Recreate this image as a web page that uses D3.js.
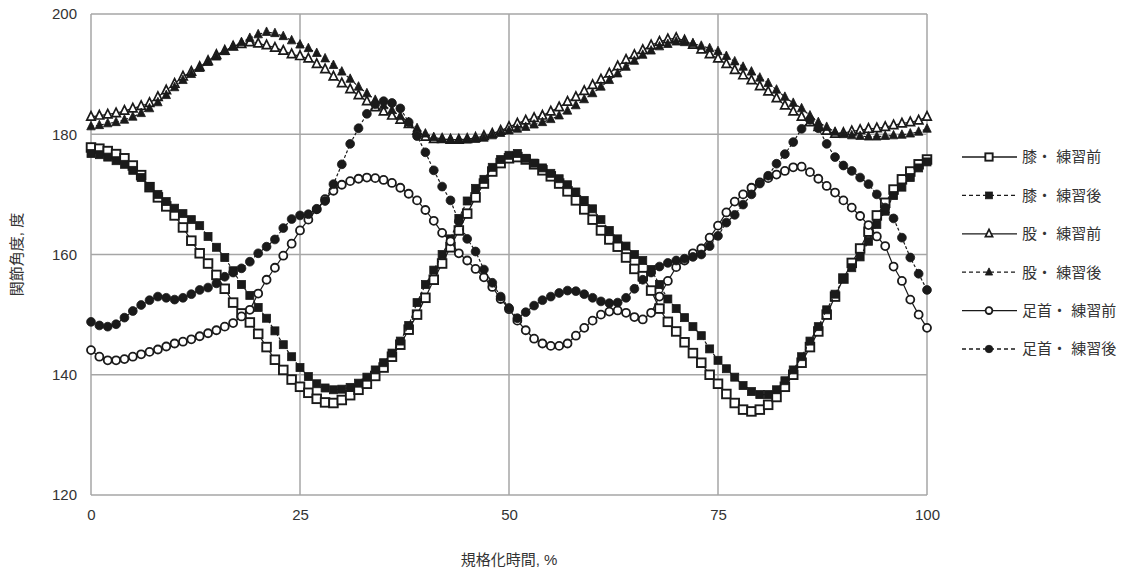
<!DOCTYPE html>
<html>
<head>
<meta charset="utf-8">
<script src="https://cdn.jsdelivr.net/npm/d3@7"></script>
<style>
  body { margin: 0; background: #fff; }
  svg text { font-family: "Liberation Sans", Arial, "Noto Sans CJK JP", sans-serif; fill: #333; }
</style>
</head>
<body>
<svg id="chart" width="1145" height="574"></svg>
<script>
// 正規化時間 0..100 %
const xValues = d3.range(0, 101);

const kneeBefore = [
  177.8, 177.6, 177.2, 176.7, 176.0, 174.8, 173.2, 171.2, 169.5, 168.0,
  166.5, 164.5, 162.3, 160.2, 158.5, 156.6, 154.3, 152.0, 150.2, 148.7,
  146.8, 144.6, 142.5, 140.8, 139.2, 138.0, 137.0, 136.0, 135.4, 135.3,
  135.8, 136.6, 137.5, 138.5, 139.8, 141.2, 143.0, 145.0, 147.5, 150.0,
  152.8, 155.8, 158.5, 161.2, 164.0, 166.8, 169.5, 171.8, 173.8, 175.2,
  176.0, 176.2, 175.8, 175.0, 174.0, 173.0, 171.8, 170.5, 169.0, 167.5,
  165.8, 164.0, 162.5, 161.3, 159.5, 157.6, 156.4, 154.0, 151.0, 148.8,
  147.2, 145.4, 143.6, 142.0, 140.0, 138.5, 136.8, 135.3, 134.2, 133.9,
  134.2, 135.0, 136.3, 138.0, 140.0, 142.0, 144.6, 147.2, 150.0, 153.0,
  156.0, 158.6, 161.0, 163.8, 166.5, 168.6, 170.8, 172.5, 173.8, 175.0,
  175.8
];
const kneeAfter = [
  176.8, 176.6, 176.2, 175.6, 175.0, 174.0, 172.8, 171.3, 170.0, 168.8,
  167.7, 166.8, 165.8, 164.8, 163.0, 161.2, 159.5, 157.3, 155.0, 153.2,
  151.2, 149.4, 147.3, 145.0, 143.0, 141.2, 139.7, 138.5, 137.8, 137.5,
  137.6, 137.9, 138.6, 139.6, 140.8, 142.0, 143.6, 145.6, 148.2, 152.0,
  155.0, 157.4, 160.0, 162.6, 166.0, 168.9, 171.0, 172.5, 174.5, 175.8,
  176.5, 176.8, 176.0, 175.2, 174.4, 173.5, 172.6, 171.6, 170.4, 169.0,
  167.6, 165.8, 164.0, 162.6, 161.4, 160.0, 159.0, 157.5, 155.0, 152.6,
  151.0, 149.5, 148.0, 146.5, 144.3, 142.4, 141.0, 139.6, 138.2, 137.2,
  136.7, 136.7, 137.5, 139.0, 140.8, 143.0, 145.6, 148.0, 150.8, 153.4,
  156.0, 157.8, 159.6, 162.2, 165.0, 167.2, 169.8, 171.2, 172.8, 174.4,
  175.4
];
const hipBefore = [
  182.9, 183.1, 183.3, 183.5, 183.9, 184.3, 184.7, 185.2, 186.2, 187.3,
  188.4, 189.6, 190.4, 191.2, 192.2, 193.2, 193.9, 194.6, 195.0, 195.3,
  195.1, 194.8, 194.4, 193.9, 193.3, 193.0, 192.6, 191.7, 190.8, 189.6,
  188.5, 187.5, 186.5, 185.5, 184.5, 183.8, 183.1, 182.4, 181.7, 180.6,
  179.6, 179.2, 179.2, 179.1, 179.1, 179.2, 179.4, 179.7, 180.1, 180.6,
  181.2, 181.8, 182.3, 182.7, 183.1, 183.8, 184.5, 185.4, 186.2, 187.2,
  188.2, 189.1, 190.1, 191.3, 192.4, 193.2, 194.0, 194.8, 195.4, 195.8,
  196.0, 195.6, 194.9, 194.1, 193.3, 192.6, 191.7, 190.7, 189.8, 189.0,
  188.0, 187.1, 186.0, 184.8, 183.8, 182.9, 182.0, 181.2, 180.6, 180.1,
  180.2, 180.5, 180.7, 180.9, 181.0, 181.2, 181.5, 181.8, 182.0, 182.3,
  182.9
];
const hipAfter = [
  181.3, 181.5, 181.8, 182.0, 182.4, 182.9, 183.5, 184.3, 185.3, 186.5,
  187.8, 189.0, 190.0, 191.0, 192.0, 192.9, 193.8, 194.6, 195.3, 196.0,
  196.6, 197.0, 196.8, 196.3, 195.6, 194.9, 194.3, 193.5, 192.6, 191.5,
  190.4, 189.2, 187.9, 186.8, 185.7, 184.8, 184.0, 183.0, 182.0, 181.0,
  180.1, 179.5, 179.2, 179.1, 179.1, 179.1, 179.2, 179.4, 179.8, 180.2,
  180.6, 180.9, 181.2, 181.6, 182.0, 182.5, 183.1, 183.9, 184.8, 185.8,
  186.8, 187.9, 189.0, 190.1, 191.2, 192.2, 193.2, 193.9, 194.6, 195.0,
  195.4, 195.3, 195.1, 194.7, 194.3, 193.8, 193.0, 192.1, 191.2, 190.4,
  189.4, 188.5, 187.4, 186.2, 185.2, 184.3, 183.1, 182.0, 181.2, 180.4,
  180.0, 179.8, 179.7, 179.6, 179.6, 179.7, 179.8, 179.9, 180.1, 180.4,
  180.9
];
const ankleBefore = [
  144.1, 143.0, 142.4, 142.4, 142.6, 143.0, 143.4, 143.8, 144.2, 144.7,
  145.2, 145.5, 145.9, 146.4, 146.9, 147.4, 148.0, 148.6, 149.7, 150.8,
  153.5, 155.8, 157.8, 159.8, 161.8, 164.0, 165.8, 167.5, 169.2, 170.6,
  171.6, 172.2, 172.6, 172.8, 172.7, 172.4, 171.9, 171.1, 170.1, 169.0,
  167.4, 165.6, 163.6, 162.2, 160.2, 159.0, 157.6, 156.2, 154.6, 152.6,
  150.9, 149.0, 147.4, 146.0, 145.2, 144.8, 144.8, 145.2, 146.5, 147.8,
  149.0, 150.0, 150.5, 150.7, 150.3, 149.6, 149.2, 150.3, 153.0, 155.6,
  157.9, 159.0, 160.2, 161.0, 162.8, 164.8, 167.0, 168.8, 170.0, 171.1,
  172.0, 172.7, 173.3, 173.9, 174.5, 174.6, 173.7, 172.6, 171.4, 170.3,
  169.0, 167.8, 166.4, 164.9, 163.0, 161.4, 158.0, 155.6, 152.5, 150.0,
  147.8
];
const ankleAfter = [
  148.8, 148.2, 148.0, 148.4, 149.5, 150.6, 151.6, 152.4, 153.0, 152.8,
  152.5, 152.8, 153.4, 154.1, 154.5, 155.2, 156.3, 157.0, 157.7, 158.8,
  160.2, 161.3, 162.5, 164.4, 165.9, 166.5, 166.7, 167.6, 168.9, 171.7,
  175.0, 178.4, 181.0, 183.4, 185.0, 185.5, 185.2, 184.3, 182.0, 179.7,
  177.0, 174.0, 171.3, 169.0, 165.5, 162.6, 160.5, 157.5, 155.3, 153.0,
  151.1, 149.4, 150.4, 151.5, 152.4, 153.0, 153.6, 154.0, 153.9, 153.4,
  152.8, 152.2, 151.9, 152.0, 152.8, 154.3, 155.8, 157.0, 158.0, 158.6,
  159.0, 159.3, 159.6, 160.0, 161.4, 163.1, 165.3, 166.6, 168.3, 170.0,
  171.8, 173.1, 175.1, 176.7, 178.7, 180.9, 182.4, 181.0, 178.4, 176.2,
  174.8, 173.9, 172.8, 171.7, 170.0, 167.8, 166.0, 162.8, 159.5, 156.8,
  154.1
];

const xTicks = [0, 25, 50, 75, 100];
const yTicks = [120, 140, 160, 180, 200];

const seriesNames = ['膝・ 練習前', '膝・ 練習後', '股・ 練習前', '股・ 練習後', '足首・ 練習前', '足首・ 練習後'];
const seriesData = [kneeBefore, kneeAfter, hipBefore, hipAfter, ankleBefore, ankleAfter];
const seriesMarker = ['square', 'square', 'triangle', 'triangle', 'circle', 'circle'];
const seriesFilled = [false, true, false, true, false, true];

const INK = '#1a1a1a';
const GRID = '#a6a6a6';

const svg = d3.select('#chart');
const margin = { left: 91, right: 927, top: 14, bottom: 495 };

const x = d3.scaleLinear().domain([0, 100]).range([margin.left, margin.right]);
const y = d3.scaleLinear().domain([120, 200]).range([margin.bottom, margin.top]);

// grid
const grid = svg.append('g');
grid.selectAll('line.gx')
  .data(xTicks)
  .enter()
  .append('line')
  .attr('x1', (d) => x(d)).attr('x2', (d) => x(d))
  .attr('y1', margin.top).attr('y2', margin.bottom)
  .attr('stroke', GRID).attr('stroke-width', 1.5);
grid.selectAll('line.gy')
  .data(yTicks)
  .enter()
  .append('line')
  .attr('x1', margin.left).attr('x2', margin.right)
  .attr('y1', (d) => y(d)).attr('y2', (d) => y(d))
  .attr('stroke', GRID).attr('stroke-width', 1.5);

// axes (labels only)
const xAxis = svg.append('g')
  .attr('transform', `translate(0,${margin.bottom + 8})`)
  .call(d3.axisBottom(x).tickValues(xTicks).tickSize(0).tickPadding(6));
const yAxis = svg.append('g')
  .attr('transform', `translate(${margin.left - 8},0)`)
  .call(d3.axisLeft(y).tickValues(yTicks).tickSize(0).tickPadding(6));
[xAxis, yAxis].forEach((a) => {
  a.select('.domain').remove();
  a.selectAll('text').attr('font-size', 15).style('font-family', '"Liberation Sans", Arial, sans-serif');
});

svg.append('text')
  .attr('x', (margin.left + margin.right) / 2)
  .attr('y', 565)
  .attr('text-anchor', 'middle')
  .attr('font-size', 15)
  .text('規格化時間, %');
svg.append('text')
  .attr('transform', `translate(22,${(margin.top + margin.bottom) / 2}) rotate(-90)`)
  .attr('text-anchor', 'middle')
  .attr('font-size', 15)
  .text('関節角度, 度');

const drawMarker = (g, type, filled, cx, cy, scale = 1) => {
  const fill = filled ? INK : '#fff';
  if (type === 'square') {
    const s = (filled ? 8 : 8.6) * scale;
    g.append('rect')
      .attr('x', cx - s / 2).attr('y', cy - s / 2)
      .attr('width', s).attr('height', s)
      .attr('fill', fill).attr('stroke', INK).attr('stroke-width', filled ? 0.8 : 1.9);
  } else if (type === 'triangle') {
    const s = 8.5 * scale;
    g.append('path')
      .attr('d', `M${cx},${cy - s * 0.6} L${cx + s / 2},${cy + s * 0.4} L${cx - s / 2},${cy + s * 0.4}Z`)
      .attr('fill', fill).attr('stroke', INK).attr('stroke-width', filled ? 0.8 : 1.7);
  } else {
    g.append('circle')
      .attr('cx', cx).attr('cy', cy).attr('r', (filled ? 4.4 : 4.0) * scale)
      .attr('fill', fill).attr('stroke', INK).attr('stroke-width', filled ? 0.8 : 1.8);
  }
};

const line = d3.line().x((d, i) => x(xValues[i])).y((d) => y(d));

seriesData.forEach((data, k) => {
  const g = svg.append('g');
  g.append('path')
    .datum(data)
    .attr('d', line)
    .attr('fill', 'none')
    .attr('stroke', INK)
    .attr('stroke-width', 1.2)
    .attr('stroke-dasharray', seriesFilled[k] ? '3,2' : null);
  data.forEach((v, i) => drawMarker(g, seriesMarker[k], seriesFilled[k], x(xValues[i]), y(v)));
});

// legend
const legend = svg.append('g');
seriesNames.forEach((name, k) => {
  const ly = 157 + k * 38.4;
  legend.append('line')
    .attr('x1', 962).attr('x2', 1017)
    .attr('y1', ly).attr('y2', ly)
    .attr('stroke', INK).attr('stroke-width', 1.3)
    .attr('stroke-dasharray', seriesFilled[k] ? '4,3' : null);
  drawMarker(legend, seriesMarker[k], seriesFilled[k], 989, ly, 0.85);
  legend.append('text')
    .attr('x', 1022).attr('y', ly)
    .attr('dy', '0.36em')
    .attr('font-size', 15)
    .text(name);
});
</script>
</body>
</html>
